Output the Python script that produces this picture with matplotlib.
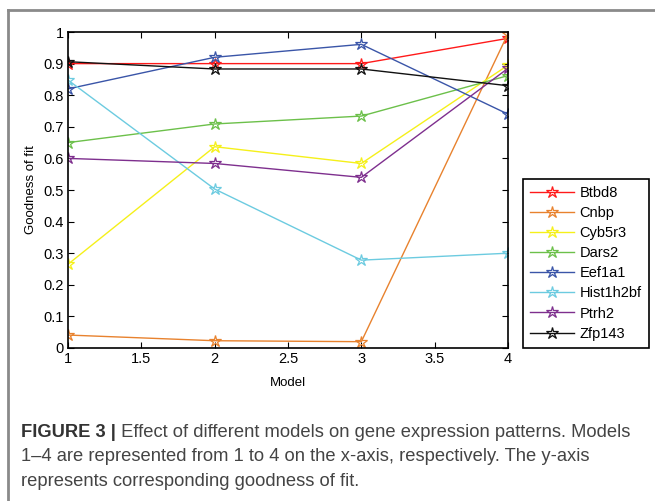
import matplotlib.pyplot as plt
from matplotlib.lines import Line2D

models = [1, 2, 3, 4]
genes = ['Btbd8', 'Cnbp', 'Cyb5r3', 'Dars2', 'Eef1a1', 'Hist1h2bf', 'Ptrh2', 'Zfp143']
btbd8 = [0.90, 0.90, 0.90, 0.98]
cnbp = [0.041, 0.023, 0.02, 0.995]
cyb5r3 = [0.265, 0.637, 0.584, 0.895]
dars2 = [0.65, 0.709, 0.734, 0.862]
eef1a1 = [0.82, 0.92, 0.961, 0.74]
hist1h2bf = [0.848, 0.503, 0.278, 0.30]
ptrh2 = [0.60, 0.584, 0.54, 0.885]
zfp143 = [0.906, 0.883, 0.883, 0.83]
colors = ['#ff1a1a', '#e8822e', '#f5f01a', '#6cc04a', '#3a55a8', '#6ccbe0', '#7e2f8e', '#111111']

series = [btbd8, cnbp, cyb5r3, dars2, eef1a1, hist1h2bf, ptrh2, zfp143]

plt.rcParams['font.family'] = ['Liberation Sans', 'DejaVu Sans']

fig = plt.figure(figsize=(6.55, 5.01), dpi=100)
ax = fig.add_axes([0.1038, 0.3054, 0.6718, 0.6307])

for name, vals, c in zip(genes, series, colors):
    ax.plot(models, vals, color=c, lw=1, marker='*', markersize=9,
            markerfacecolor='none', markeredgecolor=c, markeredgewidth=0.9, label=name)

ax.set_xlim(1, 4)
ax.set_ylim(0, 1)
ax.set_xticks([1, 1.5, 2, 2.5, 3, 3.5, 4])
ax.set_xticklabels(['1', '1.5', '2', '2.5', '3', '3.5', '4'])
ax.set_yticks([i / 10 for i in range(11)])
ax.set_yticklabels(['0'] + ['0.%d' % i for i in range(1, 10)] + ['1'])
ax.tick_params(direction='in', top=True, right=True, length=4, labelsize=10.5, pad=3)
for s in ax.spines.values():
    s.set_linewidth(1.2)
ax.set_xlabel('Model', fontsize=9.5, labelpad=8)
ax.set_ylabel('Goodness of fit', fontsize=9.5, labelpad=5)

leg = fig.legend(loc='lower left', bbox_to_anchor=(0.798, 0.3054), fontsize=10.5,
                 fancybox=False, edgecolor='black', framealpha=1, borderpad=0.5,
                 labelspacing=0.42, handlelength=3.0, handletextpad=0.4, borderaxespad=0)
leg.get_frame().set_linewidth(1.2)

# page frame
fig.add_artist(Line2D([0.0122, 0.0122], [0, 0.98], color='#8a8a8a', lw=2, transform=fig.transFigure))
fig.add_artist(Line2D([0.0122, 1], [0.98, 0.98], color='#8a8a8a', lw=2, transform=fig.transFigure))

# caption
lines = ['Effect of different models on gene expression patterns. Models',
         '1\u20134 are represented from 1 to 4 on the x-axis, respectively. The y-axis',
         'represents corresponding goodness of fit.']
t1 = fig.text(0.032, 0.128, 'FIGURE 3 |', fontsize=13.2, fontweight='bold', color='#333333', va='baseline')
ax.annotate(' ' + lines[0], xy=(1, 0), xycoords=t1, fontsize=13.2, color='#444444',
            va='bottom', annotation_clip=False)
fig.text(0.032, 0.079, lines[1], fontsize=13.2, color='#444444', va='baseline')
fig.text(0.032, 0.030, lines[2], fontsize=13.2, color='#444444', va='baseline')

fig.savefig('out.png', dpi=100)
